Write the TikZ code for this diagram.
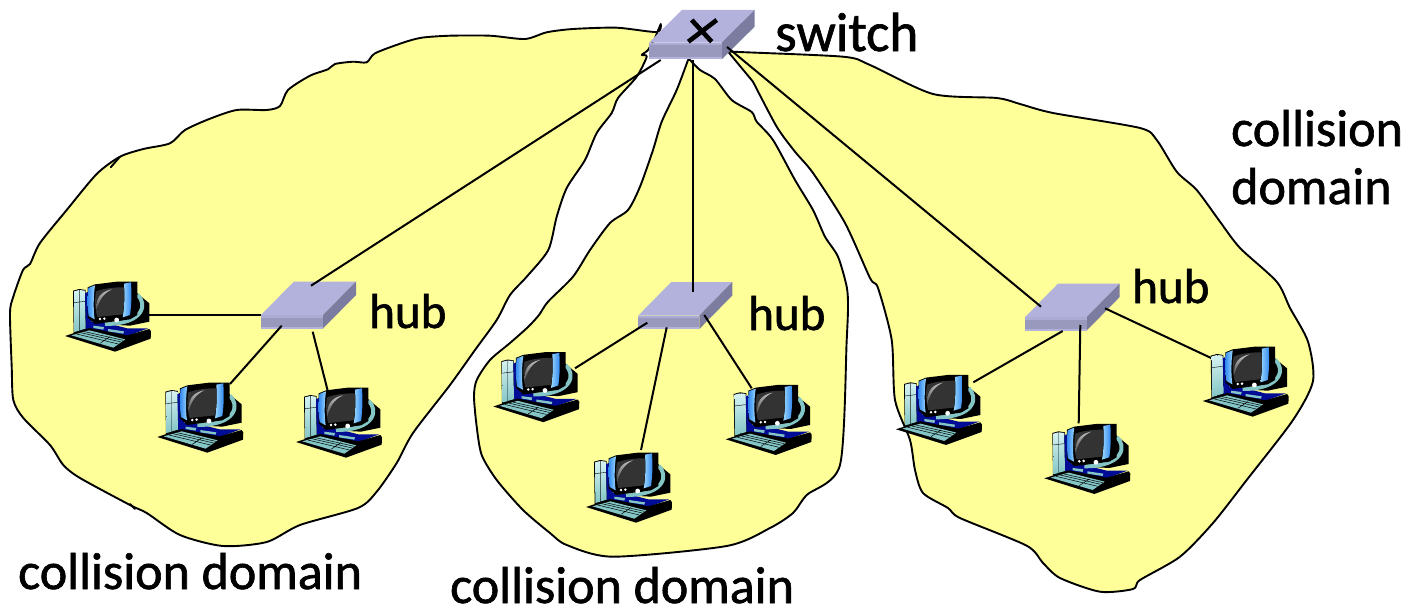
\documentclass[tikz,border=0pt]{standalone}
\usepackage{fontspec}
\setmainfont[FakeBold=1.2]{Carlito}
\usetikzlibrary{calc}
\definecolor{blobfill}{HTML}{FFFF99}
\definecolor{hubtop}{HTML}{B2B2DC}
\definecolor{hubfront}{HTML}{9999BE}
\definecolor{hubside}{HTML}{7C7CA0}
\definecolor{teal1}{HTML}{84C6C6}
\definecolor{teal2}{HTML}{D6F2F2}
\definecolor{navy1}{HTML}{000C96}
\definecolor{blue1}{HTML}{2F86EE}
\definecolor{blue2}{HTML}{9AD8FF}
\tikzset{
  blob/.style={draw=black,line width=1.9pt,fill=blobfill,line join=round},
  tail/.style={draw=black,line width=1.9pt,line cap=round},
  link/.style={draw=black,line width=2pt},
  lbl/.style={font=\fontsize{52}{58}\selectfont,anchor=base west,inner sep=0pt,text=black},
  lblhub/.style={lbl,font=\fontsize{49}{54}\selectfont},
  lblswitch/.style={lbl,font=\fontsize{55}{60}\selectfont},
  anchorbox/.style={inner sep=0pt,minimum width=85pt,minimum height=70pt},
  netboxstyle/.style={inner sep=0pt,minimum width=94pt,minimum height=47pt}
}
% #1 front-left-bottom x, #2 y, #3 front width, #4 front height, #5 depth rise
\newcommand{\netbox}[5]{%
  \fill[hubtop] (#1,#2-#4) -- ++(#3,0) -- ++(33,-#5) -- ++(-#3,0) -- cycle;
  \fill[hubside] (#1+#3,#2) -- ++(33,-#5) -- ++(0,-#4) -- ++(-33,#5) -- cycle;
  \fill[hubfront] (#1,#2-#4) rectangle (#1+#3,#2);
  \fill[hubtop!70!hubfront] (#1,#2-#4) rectangle (#1+#3,#2-#4+2.5);
  \fill[hubtop] (#1,#2-2) rectangle (#1+#3,#2);
}
\newcommand{\computerart}[2]{%
\begin{scope}[shift={(#1,#2)},x=0.33333pt,y=-0.33333pt]
  % tower
  \fill[black] (69,92) -- (88,87) -- (107,90) -- (110,208) -- (71,220) -- cycle;
  \shade[top color=teal2,bottom color=teal1] (72,94) -- (88,90) -- (88,212) -- (73,216) -- cycle;
  \shade[top color=teal2,bottom color=teal1] (89.5,90) -- (105,92) -- (107,206) -- (89.5,211) -- cycle;
  \draw[black,line width=.4pt] (72,128) -- (105,124);
  % navy body
  \fill[navy1] (105,100) -- (125,90) -- (125,185) -- (165,188) -- (232,205) -- (295,205) -- (232,228) -- (108,212) -- cycle;
  % black base
  \fill[black] (45,228) -- (118,204) -- (232,226) -- (298,207) -- (303,214) -- (302,236) -- (195,275) -- cycle;
  % keyboard
  \fill[teal1] (64,226) -- (118,211) -- (226,238) -- (190,263) -- cycle;
  \draw[black,line width=.5pt] (80,222) -- (205,252) (92,218) -- (214,246) (104,215) -- (220,241) (180,230) -- (150,250);
  % feet
  \fill[teal1] (130,197) -- (162,201) -- (160,209) -- (130,204) -- cycle;
  \fill[teal1] (174,207) -- (222,214) -- (220,221) -- (174,214) -- cycle;
  % rear of the monitor
  \fill[black] (245,92) -- (262,100) -- (298,130) -- (298,185) -- (240,197) -- (200,195) -- cycle;
  % ring
  \draw[teal1,line width=4pt] (262,104) .. controls (292,130) and (285,192) .. (165,192);
  % front of the monitor
  \fill[black] (113,82) -- (135,73) -- (200,65) -- (262,65) -- (262,165) -- (240,178) -- (135,192) -- (113,172) -- cycle;
  % side bars
  \shade[left color=blue1,right color=blue2] (115,84) -- (135,76) .. controls (130,110) and (130,150) .. (134,178) -- (116,168) .. controls (112,140) and (112,110) .. (115,84) -- cycle;
  \shade[left color=blue2,right color=blue1] (222,71) -- (243,67) .. controls (245,100) and (245,130) .. (240,165) -- (218,172) .. controls (224,140) and (224,100) .. (222,71) -- cycle;
  % screen
  \fill[black!80] (138,94) .. controls (165,84) and (195,82) .. (221,82) .. controls (224,110) and (222,140) .. (218,163) -- (142,171) .. controls (134,145) and (134,115) .. (138,94) -- cycle;
  \shade[top color=black!25,bottom color=black!70] (139,150) .. controls (138,115) and (150,95) .. (186,88) .. controls (160,100) and (148,120) .. (139,150) -- cycle;
  % buttons
  \fill[white] (150,177) circle (1.4pt) (163,176) circle (1.4pt) (200,180) circle (2.4pt);
\end{scope}}
\newcommand{\computernode}[3]{\node[anchorbox] (#1) at ($(#2,#3)+(57.3,56.7)$) {};}
\begin{document}
\begin{tikzpicture}[x=1pt,y=-1pt]
\useasboundingbox (0,0) rectangle (1410,608);
\fill[white] (0,0) rectangle (1410,608);
% yellow collision domains
\draw[blob] plot[smooth,tension=.45] coordinates {
 (660.7,24) (656.7,32) (616.7,27.7) (573,29) (546.7,32.3) (525,39) (490,35.7) (450,35.7) (421.7,37.7) (403,42.7) (375,53.3) (366.7,62.3) (353,61.7) (335,64) (328,69.3) (310,75.7) (288,90) (280,106) (266.7,110) (236.7,110) (210,118.7) (185,130) (170,143.3) (143.3,149) (120,156.7) (96.7,174) (66.7,210) (40,243) (30,264) (23,270) (13.3,296.7) (10,313) (11.7,366.7) (13.3,400) (23.3,418) (50,445) (63.3,465) (80,478) (130,505) (146.7,513) (180,535) (223,546) (266.7,542) (300,525) (358,508) (376.7,491.7) (396.7,463) (413,433) (450,385) (475,350) (496.7,320) (510,295) (526.7,276.7) (548.3,250) (556.7,216.7) (566.7,188) (585,160) (596.7,133) (611.7,113) (618,98) (636.7,76.7) (646.7,56.7) (641.7,55) (648,50) (655,38)} -- cycle;
\draw[blob] plot[smooth,tension=.45] coordinates {
 (690,60) (700,70) (715,79) (731.7,100) (751.7,112) (756.7,121.7) (773,140) (795,180) (813,210) (825,236.7) (838,256.7) (846.7,286.7) (848,306.7) (846.7,340) (840,465) (806.7,495) (793,513) (770,528) (726.7,546) (613,556.7) (566.7,545) (550,533) (523,510) (496.7,480) (481.7,455) (476.7,426.7) (474,396.7) (476.7,380) (490,360) (510,343) (528,327) (539,315) (548,301.7) (573,276.7) (590,250) (610,223) (628,210) (640,186.7) (653,150) (661.7,121.7) (676.7,90) (688,60)} -- cycle;
\draw[blob] plot[smooth,tension=.45] coordinates {
 (726.7,50) (733,51.7) (843,56.7) (870,65) (933,94) (996.7,98) (1020,104) (1053,113) (1140,128) (1156.7,140) (1176.7,171.7) (1196.7,190) (1220,221.7) (1240,248) (1276.7,281.7) (1290,308) (1308,341.7) (1313,381) (1293,420) (1246.7,480) (1213,523) (1180,556.7) (1140,580) (1133,589) (1100,591.7) (1060,578) (1043,563) (1026.7,545.7) (960,518) (948,508) (923,493) (915,470) (910,440) (895,400) (891.7,340) (878,288) (870,278) (845,223) (813,173) (795,151.7) (776.7,126.7) (753,81.7)} -- cycle;
% small tails of the outlines
\coordinate (t1a) at (120,156.7); \coordinate (t1b) at (110.7,167.3);
\coordinate (t2a) at (130,504); \coordinate (t2b) at (135,509);
\draw[tail] (t1a) -- (t1b);
\draw[tail] (t2a) -- (t2b);
% device anchors
\node[netboxstyle] (sw) at (702,35) {};
\node[netboxstyle] (h1) at (308,305) {};
\node[netboxstyle] (h2) at (685,305) {};
\node[netboxstyle] (h3) at (1072,306) {};
\computernode{c1}{50}{260}
\computernode{c2}{142.3}{361}
\computernode{c3}{281}{366}
\computernode{c4}{478.3}{330.5}
\computernode{c5}{571}{431}
\computernode{c6}{710.7}{363.3}
\computernode{c7}{881}{353.3}
\computernode{c8}{1029.3}{402.3}
\computernode{c9}{1187.7}{325}
% ports
\coordinate (p1a) at (149,315);     \coordinate (q1a) at (260.7,315);
\coordinate (p1b) at (230,384);     \coordinate (q1b) at (281.7,325.7);
\coordinate (p1c) at (327.7,390.7); \coordinate (q1c) at (312.7,331.7);
\coordinate (p2a) at (575,368.3);   \coordinate (q2a) at (647.3,322.7);
\coordinate (p2b) at (641,450);     \coordinate (q2b) at (666.7,327.3);
\coordinate (p2c) at (751.7,388.3); \coordinate (q2c) at (704.3,315);
\coordinate (p3a) at (973.3,382.3); \coordinate (q3a) at (1062.7,331);
\coordinate (p3b) at (1078.7,423.3);\coordinate (q3b) at (1080.3,325);
\coordinate (p3c) at (1211.7,358.3);\coordinate (q3c) at (1105,308.3);
% hub shapes
\netbox{261}{328.5}{62}{13.5}{33.5}
\netbox{638.3}{329}{61}{13.5}{33.5}
\netbox{1025}{330.7}{61.5}{13.5}{33.5}
\netbox{649}{59.3}{72.7}{16.7}{32.7}
\draw[black,line width=4.6pt] (691.7,20) -- (711.7,41.7) (688.3,41.7) -- (716.7,20);
% connectors
\coordinate (s1) at (660.7,60);  \coordinate (s1h) at (311,285.7);
\coordinate (s2) at (693.3,60);  \coordinate (s2h) at (693.3,291.7);
\coordinate (s3) at (727,47);    \coordinate (s3h) at (1041,306.7);
\draw[link] (s1) -- (s1h);
\draw[link] (s2) -- (s2h);
\draw[link] (s3) -- (s3h);
\foreach \a/\b in {p1a/q1a,p1b/q1b,p1c/q1c,p2a/q2a,p2b/q2b,p2c/q2c,p3a/q3a,p3b/q3b,p3c/q3c}
  \draw[link] (\a) -- (\b);
% computers
\computerart{50}{260}
\computerart{142.3}{361}
\computerart{281}{366}
\computerart{478.3}{330.5}
\computerart{571}{431}
\computerart{710.7}{363.3}
\computerart{881}{353.3}
\computerart{1029.3}{402.3}
\computerart{1187.7}{325}
% labels
\node[lblswitch] (lsw) at (775,51) {switch};
\node[lblhub] (lh1) at (369,328) {hub};
\node[lblhub] (lh2) at (748,330) {hub};
\node[lblhub] (lh3) at (1132,303) {hub};
\node[lbl] (ld1) at (18,589) {collision domain};
\node[lbl] (ld2) at (450,603) {collision domain};
\node[lbl] (ld3a) at (1231,146) {collision};
\node[lbl] (ld3b) at (1231,204) {domain};
\end{tikzpicture}
\end{document}
